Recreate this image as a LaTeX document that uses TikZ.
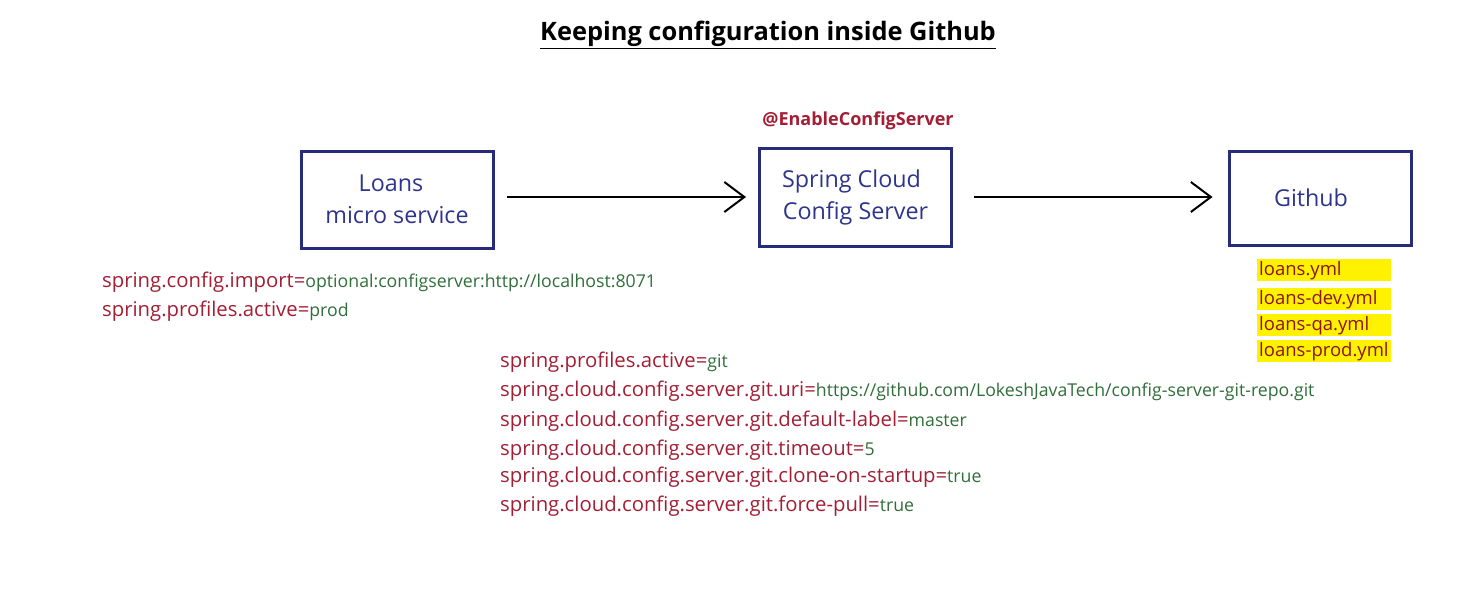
\documentclass[tikz,border=0pt]{standalone}
\usepackage{fontspec}
\setmainfont{Open Sans}
\usetikzlibrary{arrows.meta,positioning}

\definecolor{navy}{RGB}{38,44,120}
\definecolor{navytext}{RGB}{46,52,140}
\definecolor{keyred}{RGB}{163,30,52}
\definecolor{valgreen}{RGB}{48,110,58}
\definecolor{filered}{RGB}{140,20,20}
\definecolor{fileyellow}{RGB}{255,242,0}

\tikzset{
  svc/.style={draw=navy, line width=3pt, minimum width=192pt, minimum height=97pt,
    text=navytext, font=\fontsize{23.3}{32}\selectfont, align=center},
  flow/.style={line width=2pt, -{Straight Barb[length=20pt,width=30pt,line width=2pt]}},
  prop/.style={anchor=base west, inner sep=0pt, text=keyred, font=\fontsize{20.3}{24}\selectfont},
  ymlfile/.style={fill=fileyellow, text=filered, anchor=north west, inner sep=0pt,
    minimum width=134pt, minimum height=22pt, text width=132pt, align=left,
    font=\fontsize{18.5}{20}\selectfont}
}
\newcommand{\val}[1]{{\color{valgreen}\fontsize{17.7}{20}\selectfont #1}}

\begin{document}
\begin{tikzpicture}[x=1pt,y=-1pt]
  \useasboundingbox (0,0) rectangle (1471,600);

  % title
  \node (title) at (768,35) {\fontsize{25.4}{30}\selectfont\bfseries\underline{Keeping configuration inside Github}};

  % the three boxes
  \node[svc] (loans) at (397,199.5) {\hspace*{-12pt}Loans\\micro service};
  \node[svc, minimum height=98pt] (server) at (855.5,197) {\hspace*{-8pt}Spring Cloud\\Config Server};
  \node[svc, minimum width=182pt, minimum height=94pt] (github) at (1320,198) {\hspace*{-18pt}Github};
  \node[text=keyred, font=\fontsize{18}{22}\selectfont\bfseries] (enable) at (858,121) {@EnableConfigServer};

  \draw[flow, shorten <=12pt, shorten >=12pt] (loans.east |- server) -- (server.west);
  \draw[flow, shorten <=21pt, shorten >=15pt] (server.east) -- (server.east -| github.west);

  % files in the repo
  \node[ymlfile] (f1) at (1257,259) {\hspace{1pt}loans.yml};
  \node[ymlfile] (f2) at (1257,288) {\hspace{1pt}loans-dev.yml};
  \node[ymlfile] (f3) at (1257,314) {\hspace{1pt}loans-qa.yml};
  \node[ymlfile] (f4) at (1257,340) {\hspace{1pt}loans-prod.yml};

  % client properties
  \node[prop] (imp) at (102,287) {spring.config.import=\val{optional:configserver:http://localhost:8071}};
  \node[prop] (act) at (102,316) {spring.profiles.active=\val{prod}};

  % server properties
  \node[prop] (p1) at (500,367) {spring.profiles.active=\val{git}};
  \node[prop] (p2) at (500,396) {spring.cloud.config.server.git.uri=\val{https://github.com/LokeshJavaTech/config-server-git-repo.git}};
  \node[prop] (p3) at (500,426) {spring.cloud.config.server.git.default-label=\val{master}};
  \node[prop] (p4) at (500,455) {spring.cloud.config.server.git.timeout=\val{5}};
  \node[prop] (p5) at (500,482) {spring.cloud.config.server.git.clone-on-startup=\val{true}};
  \node[prop] (p6) at (500,511) {spring.cloud.config.server.git.force-pull=\val{true}};
\end{tikzpicture}
\end{document}
